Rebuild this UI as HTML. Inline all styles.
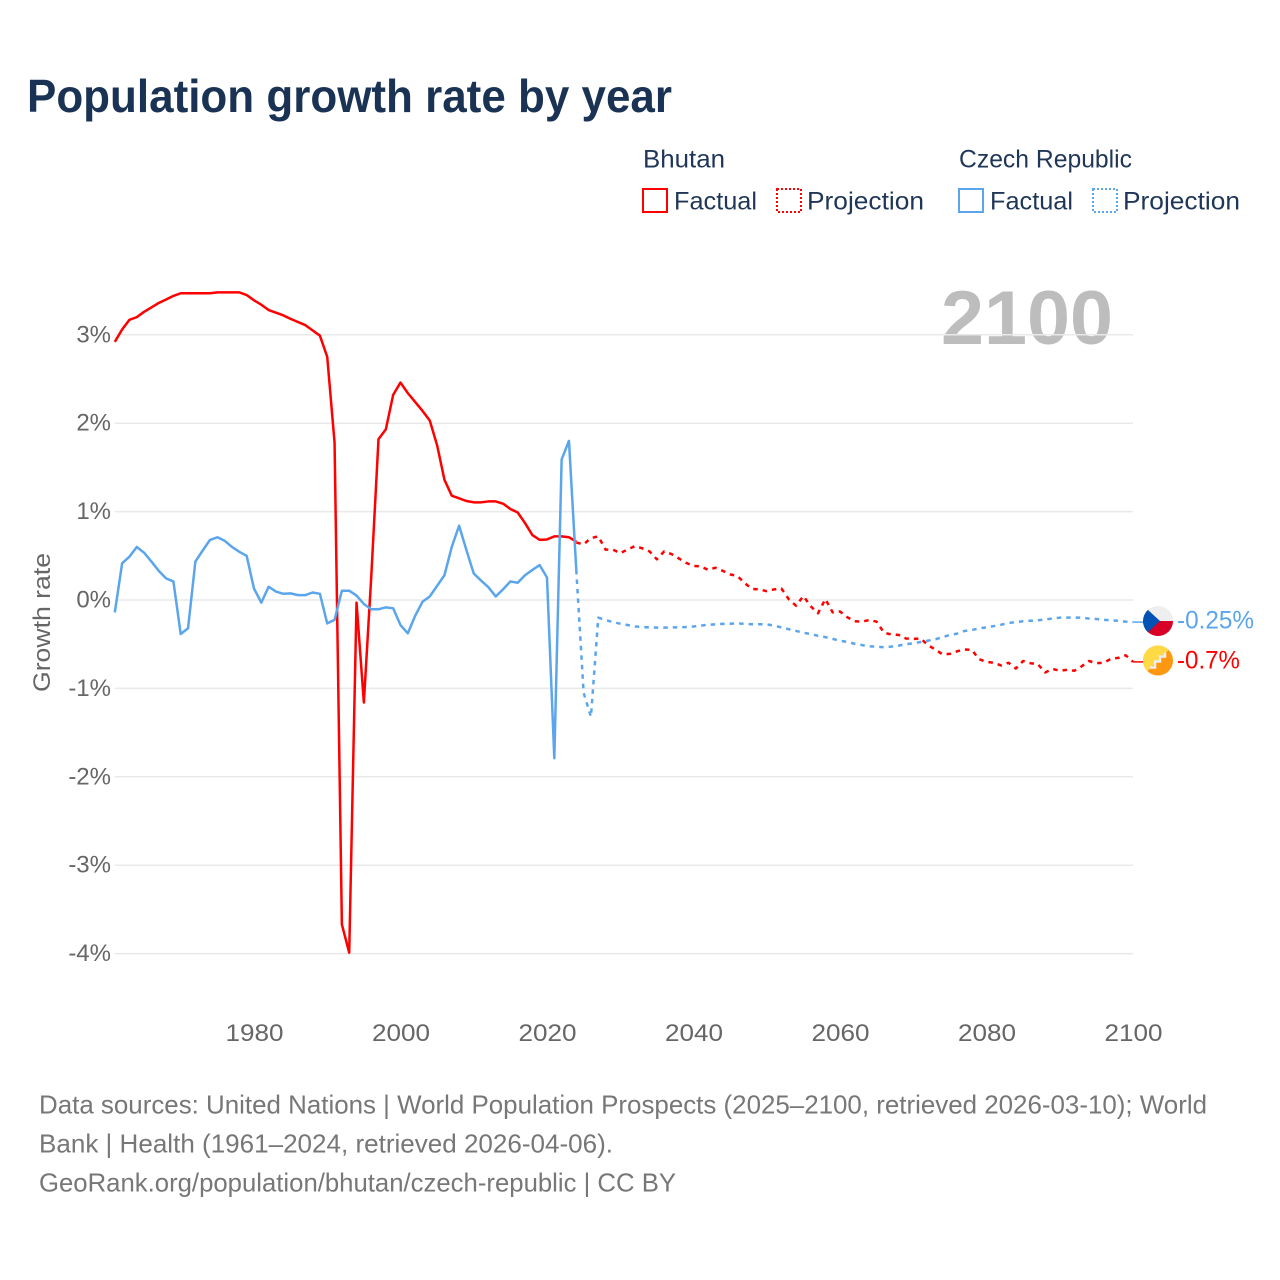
<!DOCTYPE html>
<html lang="en">
<head>
<meta charset="utf-8">
<title>Population growth rate by year</title>
<style>
html,body{margin:0;padding:0;background:#fff;width:1280px;height:1280px;overflow:hidden}
svg{display:block}
text{font-family:"Liberation Sans",sans-serif}
</style>
</head>
<body>
<svg id="chart" xmlns="http://www.w3.org/2000/svg" width="1280" height="1280" viewBox="0 0 1280 1280">
  <rect x="0" y="0" width="1280" height="1280" fill="#fff"/>
  <text x="27" y="112" font-size="46" font-weight="700" fill="#1a3354" textLength="645" lengthAdjust="spacingAndGlyphs">Population growth rate by year</text>

  <g font-size="25" fill="#1f3658">
    <text x="643" y="167.5" textLength="82" lengthAdjust="spacingAndGlyphs">Bhutan</text>
    <text x="959" y="167.5" textLength="173" lengthAdjust="spacingAndGlyphs">Czech Republic</text>
    <rect x="643" y="189" width="24" height="23" fill="none" stroke="#ff0000" stroke-width="2"/>
    <text x="674" y="209.5" textLength="83" lengthAdjust="spacingAndGlyphs">Factual</text>
    <rect x="777" y="189" width="24" height="23" fill="none" stroke="#ff0000" stroke-width="2" stroke-dasharray="2 2"/>
    <text x="807" y="209.5" textLength="117" lengthAdjust="spacingAndGlyphs">Projection</text>
    <rect x="959" y="189" width="24" height="23" fill="none" stroke="#5ba5ec" stroke-width="2"/>
    <text x="990" y="209.5" textLength="83" lengthAdjust="spacingAndGlyphs">Factual</text>
    <rect x="1093" y="189" width="24" height="23" fill="none" stroke="#5ba5ec" stroke-width="2" stroke-dasharray="2 2"/>
    <text x="1123" y="209.5" textLength="117" lengthAdjust="spacingAndGlyphs">Projection</text>
  </g>

  <text x="941" y="344" font-size="76" font-weight="700" fill="#bdbdbd" textLength="172" lengthAdjust="spacingAndGlyphs">2100</text>

  <g id="grid"></g>
  <g id="yaxis"></g>
  <g id="xaxis"></g>
  <text transform="translate(50,622.5) rotate(-90)" text-anchor="middle" font-size="24" fill="#666" textLength="139" lengthAdjust="spacingAndGlyphs">Growth rate</text>
  <g id="series"></g>
  <g id="ends"></g>

  <g id="flag-cz" transform="translate(1158,621)">
    <clipPath id="cz-clip"><circle r="15"/></clipPath>
    <g clip-path="url(#cz-clip)">
      <rect x="-15" y="-15" width="30" height="15" fill="#eeeeee"/>
      <rect x="-15" y="0" width="30" height="15" fill="#d80027"/>
      <polygon points="-15,-15 -15,15 -10,11 2,0 -10,-11" fill="#0052b4"/>
    </g>
  </g>
  <g id="flag-bt" transform="translate(1158,660.5)">
    <clipPath id="bt-clip"><circle r="15"/></clipPath>
    <g clip-path="url(#bt-clip)">
      <rect x="-15" y="-15" width="30" height="30" fill="#ff9811"/>
      <polygon points="-15,-15 15,-15 -15,15" fill="#ffda44"/>
      <polyline points="-8,7 -3,7 -3,1 2,1 2,-4 7,-4 7,-8" fill="none" stroke="#eeeeee" stroke-width="2.5"/>
    </g>
  </g>

  <g font-size="26" fill="#777">
    <text x="39" y="1113.5" textLength="1168" lengthAdjust="spacingAndGlyphs">Data sources: United Nations | World Population Prospects (2025–2100, retrieved 2026-03-10); World</text>
    <text x="39" y="1152.5" textLength="574" lengthAdjust="spacingAndGlyphs">Bank | Health (1961–2024, retrieved 2026-04-06).</text>
    <text x="39" y="1191.5" textLength="637" lengthAdjust="spacingAndGlyphs">GeoRank.org/population/bhutan/czech-republic | CC BY</text>
  </g>
</svg>

<script>
const xTickYears = [1980, 2000, 2020, 2040, 2060, 2080, 2100];
const yTickValues = [3, 2, 1, 0, -1, -2, -3, -4];
const yTickLabels = ['3%', '2%', '1%', '0%', '-1%', '-2%', '-3%', '-4%'];
const factualYears = [1961,1962,1963,1964,1965,1966,1967,1968,1969,1970,1971,1972,1973,1974,1975,1976,1977,1978,1979,1980,1981,1982,1983,1984,1985,1986,1987,1988,1989,1990,1991,1992,1993,1994,1995,1996,1997,1998,1999,2000,2001,2002,2003,2004,2005,2006,2007,2008,2009,2010,2011,2012,2013,2014,2015,2016,2017,2018,2019,2020,2021,2022,2023,2024];
const projectionYears = [2024,2025,2026,2027,2028,2029,2030,2031,2032,2033,2034,2035,2036,2037,2038,2039,2040,2041,2042,2043,2044,2045,2046,2047,2048,2049,2050,2051,2052,2053,2054,2055,2056,2057,2058,2059,2060,2061,2062,2063,2064,2065,2066,2067,2068,2069,2070,2071,2072,2073,2074,2075,2076,2077,2078,2079,2080,2081,2082,2083,2084,2085,2086,2087,2088,2089,2090,2091,2092,2093,2094,2095,2096,2097,2098,2099,2100];
const bhutanFactual = [2.92,3.06,3.17,3.20,3.26,3.31,3.36,3.40,3.44,3.47,3.47,3.47,3.47,3.47,3.48,3.48,3.48,3.48,3.45,3.39,3.34,3.28,3.25,3.22,3.18,3.145,3.11,3.05,2.99,2.75,1.78,-3.67,-3.99,-0.03,-1.16,0.25,1.82,1.93,2.32,2.46,2.34,2.24,2.14,2.03,1.75,1.36,1.18,1.15,1.12,1.105,1.105,1.115,1.115,1.09,1.03,0.99,0.87,0.735,0.68,0.685,0.72,0.72,0.71,0.66];
const czechFactual = [-0.14,0.415,0.49,0.60,0.535,0.435,0.33,0.245,0.21,-0.385,-0.32,0.435,0.56,0.68,0.71,0.67,0.60,0.545,0.50,0.13,-0.03,0.15,0.095,0.07,0.075,0.055,0.055,0.085,0.07,-0.265,-0.225,0.105,0.105,0.05,-0.045,-0.105,-0.105,-0.083,-0.094,-0.283,-0.377,-0.18,-0.02,0.04,0.16,0.28,0.60,0.84,0.565,0.30,0.22,0.145,0.04,0.12,0.21,0.195,0.28,0.34,0.395,0.255,-1.79,1.59,1.80,0.34];
const bhutanProjection = [0.65,0.63,0.70,0.72,0.57,0.57,0.53,0.57,0.61,0.585,0.55,0.46,0.55,0.52,0.47,0.42,0.385,0.38,0.34,0.365,0.33,0.29,0.27,0.19,0.125,0.12,0.10,0.12,0.13,0.01,-0.065,0.045,-0.07,-0.15,0.01,-0.14,-0.13,-0.195,-0.24,-0.245,-0.226,-0.245,-0.37,-0.39,-0.395,-0.435,-0.44,-0.435,-0.51,-0.56,-0.615,-0.61,-0.58,-0.56,-0.565,-0.67,-0.70,-0.71,-0.74,-0.71,-0.775,-0.69,-0.715,-0.725,-0.82,-0.78,-0.80,-0.79,-0.80,-0.75,-0.69,-0.715,-0.71,-0.665,-0.655,-0.625,-0.70];
const czechProjection = [0.34,-1.05,-1.32,-0.2,-0.226,-0.25,-0.268,-0.283,-0.30,-0.305,-0.31,-0.313,-0.313,-0.31,-0.31,-0.305,-0.30,-0.29,-0.28,-0.275,-0.27,-0.268,-0.265,-0.27,-0.275,-0.275,-0.275,-0.29,-0.31,-0.33,-0.35,-0.37,-0.385,-0.405,-0.42,-0.44,-0.46,-0.475,-0.495,-0.51,-0.525,-0.527,-0.535,-0.527,-0.516,-0.50,-0.49,-0.475,-0.46,-0.445,-0.42,-0.395,-0.38,-0.35,-0.34,-0.32,-0.31,-0.295,-0.28,-0.26,-0.25,-0.24,-0.235,-0.23,-0.22,-0.21,-0.20,-0.20,-0.20,-0.20,-0.21,-0.215,-0.225,-0.23,-0.235,-0.245,-0.25];
const endLabels = ['-0.25%', '-0.7%'];

const NS = 'http://www.w3.org/2000/svg';
const RED = '#ff0000';
const BLUE = '#5ba5ec';
const plotLeft = 114.8;
const plotRight = 1133;
function xScale(year) { return plotLeft + (year - 1961) * (plotRight - plotLeft) / 139; }
function yScale(value) { return 600 - value * 88.4; }
function make(tag, attrs, parent) {
  const el = document.createElementNS(NS, tag);
  for (const k in attrs) el.setAttribute(k, attrs[k]);
  parent.appendChild(el);
  return el;
}
const grid = document.getElementById('grid');
const yaxis = document.getElementById('yaxis');
const xaxis = document.getElementById('xaxis');
const seriesGroup = document.getElementById('series');
const ends = document.getElementById('ends');

yTickValues.forEach(function (v, i) {
  const line = make('line', { x1: plotLeft, x2: plotRight, y1: yScale(v), y2: yScale(v), stroke: '#e9e9e9', 'stroke-width': 1.5 }, grid);
  
  
  const label = make('text', { x: 111, y: yScale(v) + 7.5, 'text-anchor': 'end', 'font-size': 24, fill: '#666' }, yaxis);
  label.textContent = yTickLabels[i];
  
  
});
xTickYears.forEach(function (yr) {
  const label = make('text', { x: xScale(yr) + 0.5, y: 1041, 'text-anchor': 'middle', 'font-size': 24, fill: '#666', textLength: 58, lengthAdjust: 'spacingAndGlyphs' }, xaxis);
  label.textContent = String(yr);
  
  
});
function drawSeries(name, years, values, color, dashed) {
  const d = years.map(function (yr, i) {
    return (i ? 'L' : 'M') + xScale(yr).toFixed(2) + ' ' + yScale(values[i]).toFixed(2);
  }).join(' ');
  const p = make('path', { d: d, fill: 'none', stroke: color, 'stroke-width': 2.5, 'stroke-linejoin': 'round' }, seriesGroup);
  if (dashed) p.setAttribute('stroke-dasharray', '4.5 5');
  
  
}
drawSeries('line-bhutan-projection', projectionYears, bhutanProjection, RED, true);
drawSeries('line-czech-projection', projectionYears, czechProjection, BLUE, true);
drawSeries('line-bhutan-factual', factualYears, bhutanFactual, RED, false);
drawSeries('line-czech-factual', factualYears, czechFactual, BLUE, false);

function drawEnd(name, values, label, color, labelWidth) {
  const last = values[values.length - 1];
  const y = yScale(last);
  const leader = make('line', { x1: plotRight, x2: 1143, y1: y, y2: y, stroke: color, 'stroke-width': 1.5 }, ends);
  
  
  const text = make('text', { x: 1177, y: y + 6.5, 'font-size': 25, fill: color, textLength: labelWidth, lengthAdjust: 'spacingAndGlyphs' }, ends);
  text.textContent = label;
  
  
}
drawEnd('end-label-czech', czechProjection, endLabels[0], BLUE, 77);
drawEnd('end-label-bhutan', bhutanProjection, endLabels[1], RED, 63);
</script>
</body>
</html>
